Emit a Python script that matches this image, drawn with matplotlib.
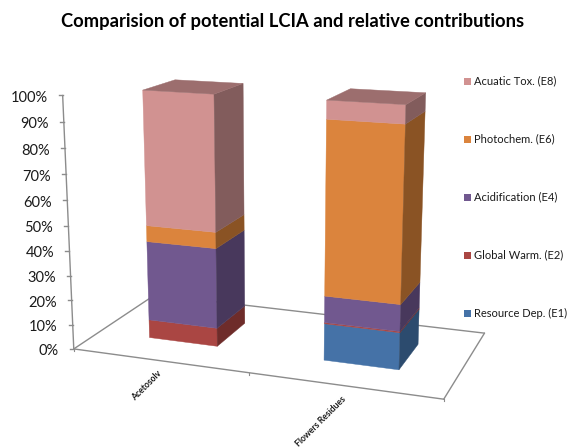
import numpy as np
import matplotlib
matplotlib.use("Agg")
import matplotlib.pyplot as plt
from matplotlib.patches import Polygon, Rectangle

plt.rcParams["font.family"] = ["Lato", "DejaVu Sans"]

# Percent share of each impact category, bottom to top of the stack
categories = ["Acetosolv", "Flowers Residues"]
resource_dep = [0.0, 14.7]
global_warm = [7.5, 0.5]
acidification = [32.5, 10.5]
photochem = [6.5, 67.5]
acuatic_tox = [53.5, 7.0]
value_ticks = [0, 10, 20, 30, 40, 50, 60, 70, 80, 90, 100]

series_names = [
    "Resource Dep. (E1)",
    "Global Warm. (E2)",
    "Acidification (E4)",
    "Photochem. (E6)",
    "Acuatic Tox. (E8)",
]
series_values = [resource_dep, global_warm, acidification, photochem, acuatic_tox]
front_colors = ["#4572a7", "#aa4643", "#71588f", "#db843d", "#d19291"]
side_colors = ["#2c4b6e", "#6e2c2a", "#48385c", "#8a5324", "#825c5c"]
lid_color = "#9c6e6e"
axis_color = "#8c8c8c"

BAR_LEFT, BAR_RIGHT = 0.3, 0.7
BAR_FRONT, BAR_BACK = 0.3, 0.7

# Known floor and box corners: (category, depth, percent) -> pixel
CALIBRATION = [
    ((0, 0, 0), (73.3, 348.7)),
    ((2, 0, 0), (443.3, 399.3)),
    ((2, 1, 0), (484.3, 333.3)),
    ((0, 1, 0), (155.6, 294.5)),
    ((0, 0, 100), (62.7, 95.7)),
    ((0, 0, 50), (68.5, 225.7)),
    ((0.3, 0.3, 0), (149.3, 337.7)),
    ((0.7, 0.3, 0), (217.7, 346.3)),
    ((0.7, 0.7, 0), (244.3, 323.3)),
    ((1.3, 0.3, 0), (324.3, 360.0)),
    ((1.7, 0.3, 0), (399.3, 369.3)),
    ((1.7, 0.7, 0), (418.3, 344.7)),
    ((0.3, 0.3, 100), (142.7, 90.0)),
    ((0.7, 0.3, 100), (214.3, 94.3)),
    ((0.7, 0.7, 100), (242.7, 83.3)),
    ((0.3, 0.7, 100), (175.0, 79.7)),
    ((1.3, 0.3, 100), (327.0, 100.7)),
    ((1.7, 0.3, 100), (406.0, 105.0)),
    ((1.7, 0.7, 100), (425.7, 93.3)),
    ((1.3, 0.7, 100), (350.0, 89.3)),
]


def fit_camera(pairs):
    # Direct linear transform for a 3x4 projection matrix
    rows = []
    for (x, y, z), (u, v) in pairs:
        z = z / 100.0
        rows.append([x, y, z, 1, 0, 0, 0, 0, -u * x, -u * y, -u * z, -u])
        rows.append([0, 0, 0, 0, x, y, z, 1, -v * x, -v * y, -v * z, -v])
    _, _, vt = np.linalg.svd(np.array(rows))
    return vt[-1].reshape(3, 4)


camera = fit_camera(CALIBRATION)


def project(x, y, z):
    u, v, w = camera @ np.array([x, y, z / 100.0, 1.0])
    return u / w, v / w


def draw_face(ax, corners, color):
    ax.add_patch(
        Polygon([project(*c) for c in corners], closed=True, facecolor=color,
                edgecolor=color, linewidth=0.3, zorder=3)
    )


def draw_line(ax, start, end):
    xs, ys = zip(project(*start), project(*end))
    ax.plot(xs, ys, color=axis_color, linewidth=1.0, solid_capstyle="round", zorder=2)


def draw_stack(ax, index):
    x0, x1 = index + BAR_LEFT, index + BAR_RIGHT
    y0, y1 = BAR_FRONT, BAR_BACK
    bottom = 0.0
    for values, front, side in zip(series_values, front_colors, side_colors):
        top = bottom + values[index]
        if values[index] > 0:
            draw_face(ax, [(x0, y0, bottom), (x1, y0, bottom), (x1, y0, top), (x0, y0, top)], front)
            draw_face(ax, [(x1, y0, bottom), (x1, y1, bottom), (x1, y1, top), (x1, y0, top)], side)
        bottom = top
    draw_face(ax, [(x0, y0, bottom), (x1, y0, bottom), (x1, y1, bottom), (x0, y1, bottom)], lid_color)


fig = plt.figure(figsize=(5.68, 4.47), dpi=100)
ax = fig.add_axes([0, 0, 1, 1])
ax.set_xlim(0, 568)
ax.set_ylim(447, 0)
ax.axis("off")

ax.text(293, 21, "Comparision of potential LCIA and relative contributions",
        fontsize=13.2, fontweight="bold", ha="center", va="center", color="black")

# Floor outline and value axis
draw_line(ax, (0, 0, 0), (2, 0, 0))
draw_line(ax, (2, 0, 0), (2, 1, 0))
draw_line(ax, (2, 1, 0), (0, 1, 0))
draw_line(ax, (0, 1, 0), (0, 0, 0))
draw_line(ax, (0, 0, 0), (0, 0, 100))

for tick in value_ticks:
    px, py = project(0, 0, tick)
    ax.plot([px - 4, px], [py, py], color=axis_color, linewidth=1.0)
    ax.text(px - 15, py + 2.5, f"{tick}%", fontsize=10.5, ha="right", va="center", color="#1a1a1a")

for i in range(3):
    px, py = project(i, 0, 0)
    ax.plot([px, px], [py, py + 2], color=axis_color, linewidth=0.8)

for i, name in enumerate(categories):
    draw_stack(ax, i)
    px, py = project(i + 0.5, 0, 0)
    ax.text(px - 2, py + 9, name, fontsize=6.2, fontweight="bold", rotation=45,
            rotation_mode="anchor", ha="right", va="top", color="#1a1a1a")

# Legend, last series on top
legend_rows = [81, 139, 197, 255, 313]
for row, name, color in zip(legend_rows, series_names[::-1], front_colors[::-1]):
    ax.add_patch(Rectangle((464, row - 3.5), 7, 7, facecolor=color, edgecolor="none"))
    ax.text(474, row, name, fontsize=8.0, ha="left", va="center", color="#1a1a1a")

fig.savefig("out.png", dpi=100)
